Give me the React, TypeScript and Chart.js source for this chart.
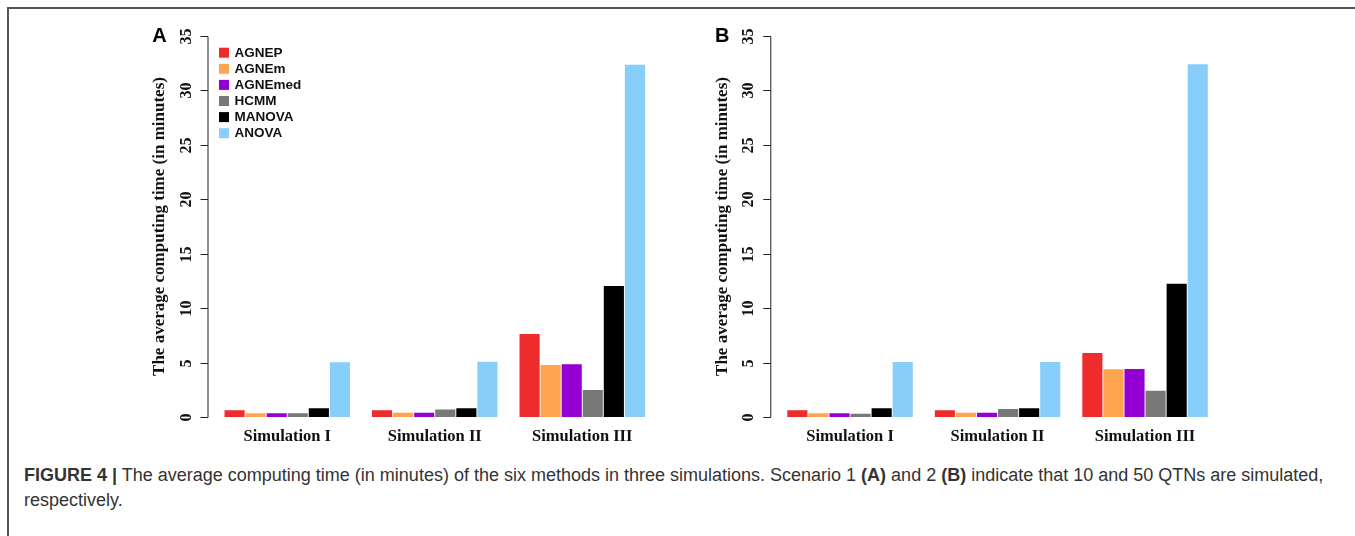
import React, { useEffect, useRef } from "react";
import { Chart, registerables } from "chart.js";

Chart.register(...registerables);

const categories = ["Simulation I", "Simulation II", "Simulation III"];
const methods = ["AGNEP", "AGNEm", "AGNEmed", "HCMM", "MANOVA", "ANOVA"];
const methodColors = ["#EE2C2C", "#FFA54F", "#9400D3", "#787878", "#000000", "#87CEFA"];
const yTicks = [0, 5, 10, 15, 20, 25, 30, 35];
const yTitle = "The average computing time (in minutes)";

// Scenario 1 (A)
const agnepA = [0.62, 0.62, 7.62];
const agnemA = [0.34, 0.4, 4.78];
const agnemedA = [0.34, 0.4, 4.85];
const hcmmA = [0.34, 0.7, 2.48];
const manovaA = [0.8, 0.8, 12.03];
const anovaA = [5.02, 5.08, 32.35];

// Scenario 2 (B)
const agnepB = [0.62, 0.62, 5.87];
const agnemB = [0.34, 0.4, 4.38];
const agnemedB = [0.34, 0.4, 4.4];
const hcmmB = [0.3, 0.73, 2.42];
const manovaB = [0.8, 0.8, 12.25];
const anovaB = [5.05, 5.05, 32.4];

const seriesA = [agnepA, agnemA, agnemedA, hcmmA, manovaA, anovaA];
const seriesB = [agnepB, agnemB, agnemedB, hcmmB, manovaB, anovaB];

const SERIF = '"Liberation Serif", "Times New Roman", serif';
const SANS = '"Liberation Sans", Arial, sans-serif';

const customAxes = {
  id: "customAxes",
  afterDraw(chart: any, _args: any, opts: any) {
    const { ctx, chartArea } = chart;
    const x = chart.scales.x;
    const y = chart.scales.y;
    const x0 = chartArea.left - 6;
    ctx.save();
    ctx.strokeStyle = "#222";
    ctx.fillStyle = "#111";
    ctx.lineWidth = 1;
    // axis line
    ctx.beginPath();
    ctx.moveTo(x0 + 0.5, Math.round(y.getPixelForValue(yTicks[0])) + 0.5);
    ctx.lineTo(x0 + 0.5, Math.round(y.getPixelForValue(yTicks[yTicks.length - 1])) + 0.5);
    ctx.stroke();
    // ticks + labels
    ctx.font = `bold 16px ${SERIF}`;
    ctx.textAlign = "center";
    ctx.textBaseline = "middle";
    yTicks.forEach((t) => {
      const py = Math.round(y.getPixelForValue(t)) + 0.5;
      ctx.beginPath();
      ctx.moveTo(x0 - 7, py);
      ctx.lineTo(x0 + 0.5, py);
      ctx.stroke();
      ctx.save();
      ctx.translate(x0 - 21, py);
      ctx.rotate(-Math.PI / 2);
      ctx.fillText(String(t), 0, 0);
      ctx.restore();
    });
    // y title
    ctx.save();
    ctx.translate(x0 - 48, (chartArea.top + chartArea.bottom) / 2);
    ctx.rotate(-Math.PI / 2);
    ctx.font = `bold 17px ${SERIF}`;
    ctx.fillText(yTitle, 0, 0);
    ctx.restore();
    // x labels
    ctx.font = `bold 16.5px ${SERIF}`;
    categories.forEach((c, i) => {
      ctx.fillText(c, x.getPixelForValue(i), chartArea.bottom + 20);
    });
    // panel letter
    ctx.font = `bold 20px ${SANS}`;
    ctx.fillStyle = "#000";
    ctx.fillText(opts.letter, x0 - 48, chartArea.top);
    // legend
    if (opts.legend) {
      ctx.font = `bold 13.5px ${SANS}`;
      ctx.textAlign = "left";
      chart.data.datasets.forEach((ds: any, i: number) => {
        const cy = chartArea.top + 16.7 + 16.1 * i;
        ctx.fillStyle = ds.backgroundColor;
        ctx.fillRect(chartArea.left + 5.5, cy - 5, 10, 10);
        ctx.fillStyle = "#111";
        ctx.fillText(ds.label, chartArea.left + 21, cy + 0.5);
      });
    }
    ctx.restore();
  },
};

function Panel(props: {
  letter: string;
  series: number[][];
  legend: boolean;
  left: number;
  padLeft: number;
  padRight: number;
}) {
  const ref = useRef<HTMLCanvasElement | null>(null);
  useEffect(() => {
    if (!ref.current) return;
    const chart = new Chart(ref.current, {
      type: "bar",
      data: {
        labels: categories,
        datasets: methods.map((m, i) => ({
          label: m,
          data: props.series[i],
          backgroundColor: methodColors[i],
          borderWidth: 0,
          barPercentage: 0.955,
          categoryPercentage: 6 / 7,
        })),
      },
      plugins: [customAxes],
      options: {
        animation: false,
        responsive: false,
        devicePixelRatio: 1,
        layout: {
          padding: { left: props.padLeft, right: props.padRight, top: 16, bottom: 43 },
        },
        scales: {
          x: { display: false, grid: { display: false } },
          y: { display: false, min: 0, max: 35, ticks: { stepSize: 5 } },
        },
        plugins: {
          legend: { display: false },
          tooltip: { enabled: false },
          customAxes: { letter: props.letter, legend: props.legend },
        } as any,
      },
    });
    return () => chart.destroy();
  }, []);
  return (
    <div style={{ position: "absolute", left: props.left, top: 20, width: 560, height: 440 }}>
      <canvas ref={ref} width={560} height={440} style={{ width: 560, height: 440, display: "block" }} />
    </div>
  );
}

export default function App() {
  return (
    <div style={{ position: "absolute", left: 0, top: 0, width: 1355, height: 536, background: "#fff", overflow: "hidden" }}>
      <div
        style={{
          position: "absolute",
          left: 7,
          top: 7,
          right: -10,
          bottom: -10,
          borderTop: "2px solid #555",
          borderLeft: "2px solid #555",
        }}
      />
      <Panel letter="A" series={seriesA} legend={true} left={140} padLeft={73.5} padRight={44} />
      <Panel letter="B" series={seriesB} legend={false} left={700} padLeft={76.3} padRight={41.2} />
      <div
        style={{
          position: "absolute",
          left: 24,
          top: 463,
          width: 1325,
          fontFamily: SANS,
          fontSize: 18,
          lineHeight: "25px",
          color: "#333",
        }}
      >
        <b>FIGURE 4 |</b> The average computing time (in minutes) of the six methods in three simulations. Scenario 1{" "}
        <b>(A)</b> and 2 <b>(B)</b> indicate that 10 and 50 QTNs are simulated, respectively.
      </div>
    </div>
  );
}
